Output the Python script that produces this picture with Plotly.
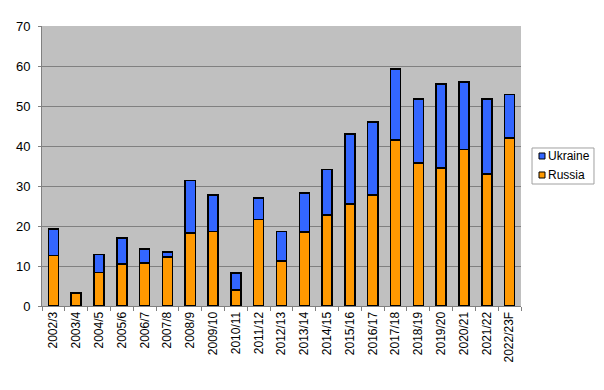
import plotly.graph_objects as go

seasons = ["2002/3", "2003/4", "2004/5", "2005/6", "2006/7", "2007/8", "2008/9", "2009/10",
           "2010/11", "2011/12", "2012/13", "2013/14", "2014/15", "2015/16", "2016/17",
           "2017/18", "2018/19", "2019/20", "2020/21", "2021/22", "2022/23F"]
russia = [12.6, 3.2, 8.4, 10.5, 10.7, 12.2, 18.3, 18.6, 4.0, 21.6, 11.3, 18.5, 22.8, 25.5,
          27.8, 41.5, 35.8, 34.5, 39.1, 33.0, 42.0]
total = [19.2, 3.2, 12.9, 17.0, 14.2, 13.5, 31.4, 27.8, 8.3, 27.0, 18.6, 28.3, 34.1, 43.0,
         46.0, 59.3, 51.8, 55.5, 56.0, 51.8, 52.9]
ukraine = [round(t - r, 2) for t, r in zip(total, russia)]

UKR_COLOR = "#3366FF"
RUS_COLOR = "#FF9900"

fig = go.Figure()
fig.add_trace(go.Bar(x=seasons, y=russia, name="Russia",
                     marker=dict(color=RUS_COLOR, line=dict(color="#000000", width=1.5))))
fig.add_trace(go.Bar(x=seasons, y=ukraine, name="Ukraine",
                     marker=dict(color=UKR_COLOR, line=dict(color="#000000", width=1.5))))

# custom legend (box, swatches, labels) in paper coordinates
shapes = [
    dict(type="rect", xref="paper", yref="paper", x0=1.023, x1=1.1524, y0=0.4357, y1=0.5643,
         fillcolor="white", line=dict(color="#A0A0A0", width=1)),
    dict(type="rect", xref="paper", yref="paper", x0=1.0376, x1=1.0501, y0=0.525, y1=0.5464,
         fillcolor=UKR_COLOR, line=dict(color="#000000", width=1)),
    dict(type="rect", xref="paper", yref="paper", x0=1.0376, x1=1.0501, y0=0.4571, y1=0.4786,
         fillcolor=RUS_COLOR, line=dict(color="#000000", width=1)),
]
annotations = [
    dict(xref="paper", yref="paper", x=1.052, y=0.5357, text="Ukraine", showarrow=False,
         xanchor="left", yanchor="middle", font=dict(size=12)),
    dict(xref="paper", yref="paper", x=1.052, y=0.4679, text="Russia", showarrow=False,
         xanchor="left", yanchor="middle", font=dict(size=12)),
]

# page body has an 8px default margin, so the figure is sized/offset to compensate
fig.update_layout(
    barmode="stack",
    bargap=0.56,
    width=588, height=374,
    margin=dict(l=34, r=75, t=18, b=76, autoexpand=False),
    paper_bgcolor="white",
    plot_bgcolor="#C0C0C0",
    font=dict(family="Liberation Sans, Arial, sans-serif", size=12, color="black"),
    showlegend=False,
    shapes=shapes,
    annotations=annotations,
)
fig.update_xaxes(tickangle=-90, showline=True, linecolor="#808080", linewidth=1,
                 ticks="outside", tickson="boundaries", ticklen=4, tickcolor="#808080",
                 showgrid=False, mirror=False, automargin=False)
fig.update_yaxes(range=[0, 70], dtick=10, showline=True, linecolor="#808080", linewidth=1,
                 ticks="outside", ticklen=3, tickcolor="#808080", ticklabelstandoff=5,
                 tickfont=dict(size=13),
                 gridcolor="#808080", gridwidth=1, zeroline=False, automargin=False)

fig.write_html("out.html")
